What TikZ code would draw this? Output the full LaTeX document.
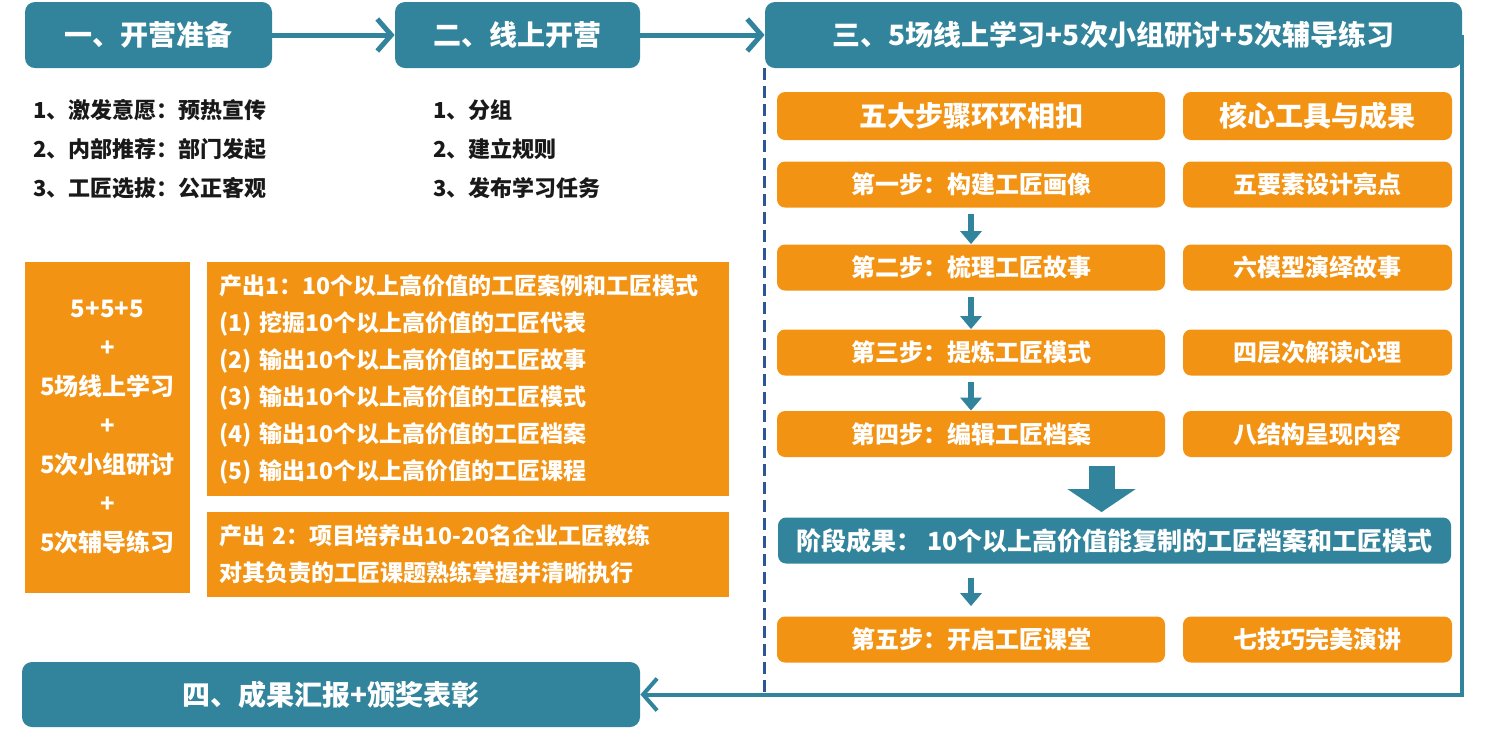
\documentclass[tikz,border=0pt]{standalone}
\usepackage{fontspec}
\setmainfont{Noto Sans CJK SC}
\usetikzlibrary{positioning,calc,arrows.meta}
\definecolor{stagecol}{HTML}{31849B}
\definecolor{outcol}{HTML}{F39313}
\definecolor{dashcol}{HTML}{2F5597}

\begin{document}
\begin{tikzpicture}[
    x=0.5pt,
    y=-0.5pt,
    stage/.style={
      fill=stagecol,
      rounded corners=5pt,
      text=white,
      inner sep=0pt,
      minimum height=33pt,
      font=\bfseries\fontsize{14}{16}\selectfont
      },
    item/.style={
      anchor=west,
      inner sep=0pt,
      text=black!90,
      font=\bfseries\fontsize{11}{13}\selectfont
      },
    block/.style={
      fill=outcol,
      text=white,
      inner sep=0pt
      },
    stepbox/.style={
      fill=outcol,
      rounded corners=4pt,
      text=white,
      inner sep=0pt,
      minimum width=194pt,
      minimum height=23pt,
      font=\bfseries\fontsize{12}{14}\selectfont
      },
    toolbox/.style={
      stepbox,
      minimum width=134.5pt
      },
    flow/.style={
      draw=stagecol,
      line width=2.5pt,
      -{Straight Barb[length=7pt,width=16pt]}
      },
    down/.style={
      draw=stagecol,
      line width=3pt,
      -{Triangle[length=6.5pt,width=10.5pt]}
      },
    >=latex
    ]
    \useasboundingbox (0,0) rectangle (1498,752);

    % four stages
    \node[stage, minimum width=123.5pt] (s1) at (148.5,35) {一、开营准备};
    \node[stage, minimum width=122.5pt] (s2) at (517.5,35) {二、线上开营};
    \node[stage, minimum width=348.5pt] (s3) at (1113.5,35) {三、5场线上学习+5次小组研讨+5次辅导练习};
    \node[stage, minimum width=309pt, minimum height=32.5pt] (s4) at (331,694.5) {四、成果汇报+颁奖表彰};

    \draw[flow] (s1) -- (s2);
    \draw[flow] (s2) -- (s3);
    \draw[draw=dashcol, line width=1.7pt, dash pattern=on 6pt off 3pt] (s3.south west) -- (s3.west |- s4.east);
    \draw[flow, line width=2pt] (s3.east) |- (s4.east);

    % lists
    \foreach \t [count=\i] in {1、激发意愿：预热宣传, 2、内部推荐：部门发起, 3、工匠选拔：公正客观}
      \node[item] (prep-\i) at (33,71+39*\i) {\t};
    \foreach \t [count=\i] in {1、分组, 2、建立规则, 3、发布学习任务}
      \node[item] (open-\i) at (433,71+39*\i) {\t};

    % outputs
    \node[block, minimum width=82.5pt, minimum height=165.5pt, align=center,
      font=\bfseries\fontsize{12}{19.5}\selectfont] (mix) at (107.5,427.5)
      {5+5+5\\+\\5场线上学习\\+\\5次小组研讨\\+\\5次辅导练习};
    \node[block, minimum width=261pt, minimum height=117pt, text width=249pt, align=left,
      font=\bfseries\fontsize{11.5}{18.5}\selectfont] (out1) at (468,379)
      {产出1：10个以上高价值的工匠案例和工匠模式\\
       (1) 挖掘10个以上高价值的工匠代表\\
       (2) 输出10个以上高价值的工匠故事\\
       (3) 输出10个以上高价值的工匠模式\\
       (4) 输出10个以上高价值的工匠档案\\
       (5) 输出10个以上高价值的工匠课程};
    \node[block, minimum width=261pt, minimum height=42.5pt, text width=249pt, align=left,
      font=\bfseries\fontsize{11.5}{18.5}\selectfont] (out2) at (468,554.5)
      {产出 2：项目培养出10-20名企业工匠教练\\
       对其负责的工匠课题熟练掌握并清晰执行};

    % five steps
    \node[stepbox, minimum height=24pt, font=\bfseries\fontsize{14}{16}\selectfont] (head-l) at (971,116) {五大步骤环环相扣};
    \node[toolbox, minimum height=24pt, font=\bfseries\fontsize{14}{16}\selectfont] (head-r) at (1317.5,116) {核心工具与成果};
    \foreach \y/\s/\t [count=\i] in {
        184.5/第一步：构建工匠画像/五要素设计亮点,
        267.5/第二步：梳理工匠故事/六模型演绎故事,
        352.5/第三步：提炼工匠模式/四层次解读心理,
        434/第四步：编辑工匠档案/八结构呈现内容,
        639.5/第五步：开启工匠课堂/七技巧完美演讲}
    {
      \node[stepbox] (step-\i) at (971,\y) {\s};
      \node[toolbox] (tool-\i) at (1317.5,\y) {\t};
    }
    \node[stepbox, fill=stagecol, minimum width=336.5pt, font=\bfseries\fontsize{12.5}{14}\selectfont] (res) at (1114.5,540.5)
      {阶段成果： 10个以上高价值能复制的工匠档案和工匠模式};

    \foreach \i [evaluate=\i as \j using int(\i+1)] in {1,2,3}
      \draw[down, shorten <=3pt] (step-\i) -- (step-\j);
    \draw[draw=stagecol, line width=13pt, -{Triangle[length=11.5pt,width=33.5pt]}]
      ($(res.north)+(-13,-51)$) -- ($(res.north)+(-13,-5)$);
    \draw[down, shorten <=7pt, shorten >=5pt] (res.south -| step-5.north) -- (step-5.north);
\end{tikzpicture}
\end{document}
